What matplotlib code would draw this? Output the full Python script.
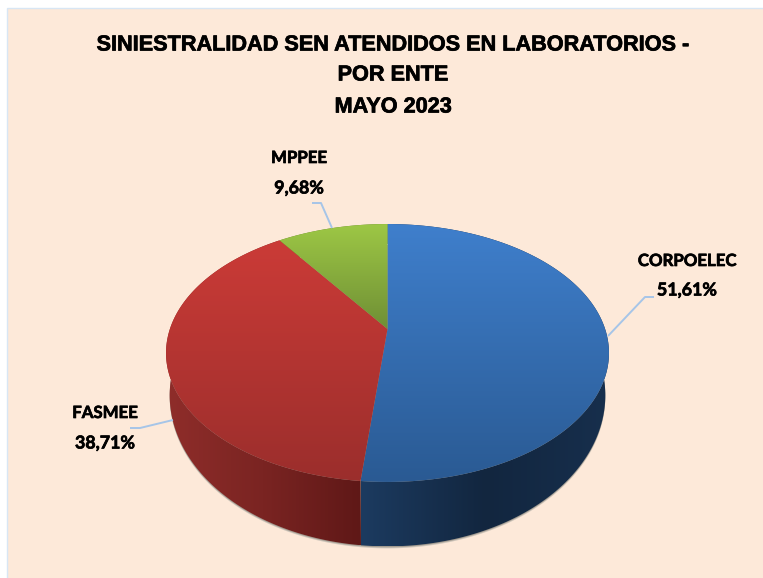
import numpy as np
import matplotlib
matplotlib.use("Agg")
import matplotlib.pyplot as plt
import matplotlib.patheffects as pe
from matplotlib.colors import LinearSegmentedColormap
from matplotlib.patches import Polygon, Rectangle

entes = ["CORPOELEC", "FASMEE", "MPPEE"]
valores = [51.61, 38.71, 9.68]
etiquetas = ["51,61%", "38,71%", "9,68%"]

titulo = ["SINIESTRALIDAD SEN ATENDIDOS EN LABORATORIOS -", "POR ENTE", "MAYO 2023"]

# colour stops of each face
top_cols = [["#3f7fcc", "#2a5a93"], ["#cb3b37", "#9b2e2c"], ["#9dc745", "#6f8f35"]]
side_cols = [["#1c3b60", "#12263f", "#172f4d"], ["#8f2d2a", "#7a2422", "#5f1817"], ["#5f7a2c", "#5f7a2c"]]

# pie geometry in pixels, with a perspective tilt (upper and lower rim)
cx = 387.5
rim_top = (217.6, 124.5, 329)
rim_low = (214.0, 146.0, 367)
k = 0.186


def project(t, rim):
    a, b, cy = rim
    u, v = np.sin(t), np.cos(t)
    w = 1 + k * v
    return cx + a * u / w, cy - b * v / w


def gradient(poly, cols, horizontal=False):
    cmap = LinearSegmentedColormap.from_list("g", cols)
    xs, ys = poly[:, 0], poly[:, 1]
    g = np.linspace(0, 1, 256)
    g = g.reshape(1, -1) if horizontal else g.reshape(-1, 1)
    im = ax.imshow(g, cmap=cmap, aspect="auto", interpolation="bilinear",
                   extent=(xs.min(), xs.max(), ys.max(), ys.min()), zorder=3)
    p = Polygon(poly, closed=True, transform=ax.transData, fc="none", ec="none")
    ax.add_patch(p)
    im.set_clip_path(p)


fig = plt.figure(figsize=(7.63, 5.78), dpi=100, facecolor="white")
ax = fig.add_axes([0, 0, 1, 1])
ax.set_axis_off()

ax.add_patch(Rectangle((7, 8), 770, 580, fc="#fde9d9", ec="#d8e6f4", lw=1))

# angles of the slices, clockwise from the top
frac = np.array(valores) / sum(valores)
limites = np.concatenate([[0], np.cumsum(frac)]) * 2 * np.pi

# soft shadow under the wall
tt = np.linspace(0, 2 * np.pi, 400)
sx, sy = project(tt, rim_low)
ax.add_patch(Polygon(np.c_[sx, sy + 2], closed=True, fc="#cfc6bb", ec="none", zorder=2))
ax.add_patch(Polygon(np.c_[sx, sy + 1], closed=True, fc="#a39b90", ec="none", zorder=2))

# walls first
for i in range(len(valores)):
    t = np.linspace(limites[i], limites[i + 1], 200)
    x, y = project(t, rim_top)
    x2, y2 = project(t, rim_low)
    poly = np.r_[np.c_[x, y], np.c_[x2, y2][::-1]]
    gradient(poly, side_cols[i], horizontal=True)

# then the top faces
for i in range(len(valores)):
    t = np.linspace(limites[i], limites[i + 1], 200)
    x, y = project(t, rim_top)
    poly = np.r_[[[cx, rim_top[2]]], np.c_[x, y]]
    gradient(poly, top_cols[i])

ax.set_xlim(0, 763)
ax.set_ylim(578, 0)

# leader lines
lineas = [[(608, 336), (645, 297), (654, 297)],
          [(173, 420), (140, 428), (130, 428)],
          [(332, 228), (321, 203), (312, 203)]]
for ln in lineas:
    ax.plot(*zip(*ln), color="#a6c5e8", lw=1.4, zorder=4, solid_capstyle="butt")

# labels
pos = [(687, 261, 290), (105, 413, 443), (299, 158, 188)]
grueso = [pe.withStroke(linewidth=0.5, foreground="black")]
for nombre, et, (px, y1, y2) in zip(entes, etiquetas, pos):
    ax.text(px, y1, nombre, family="Lato", weight="bold", fontsize=12.1, ha="center",
            va="center", color="black", zorder=5, path_effects=grueso)
    ax.text(px, y2, et, family="Lato", weight="bold", fontsize=12.8, ha="center",
            va="center", color="black", zorder=5, path_effects=grueso)

# title
for linea, yy in zip(titulo, [45, 75, 107]):
    ax.text(393, yy, linea, family="Liberation Sans", weight="bold", fontsize=15.6, ha="center",
            va="center", color="black", zorder=5, path_effects=grueso)

fig.savefig("out.png", dpi=100, facecolor="white")
